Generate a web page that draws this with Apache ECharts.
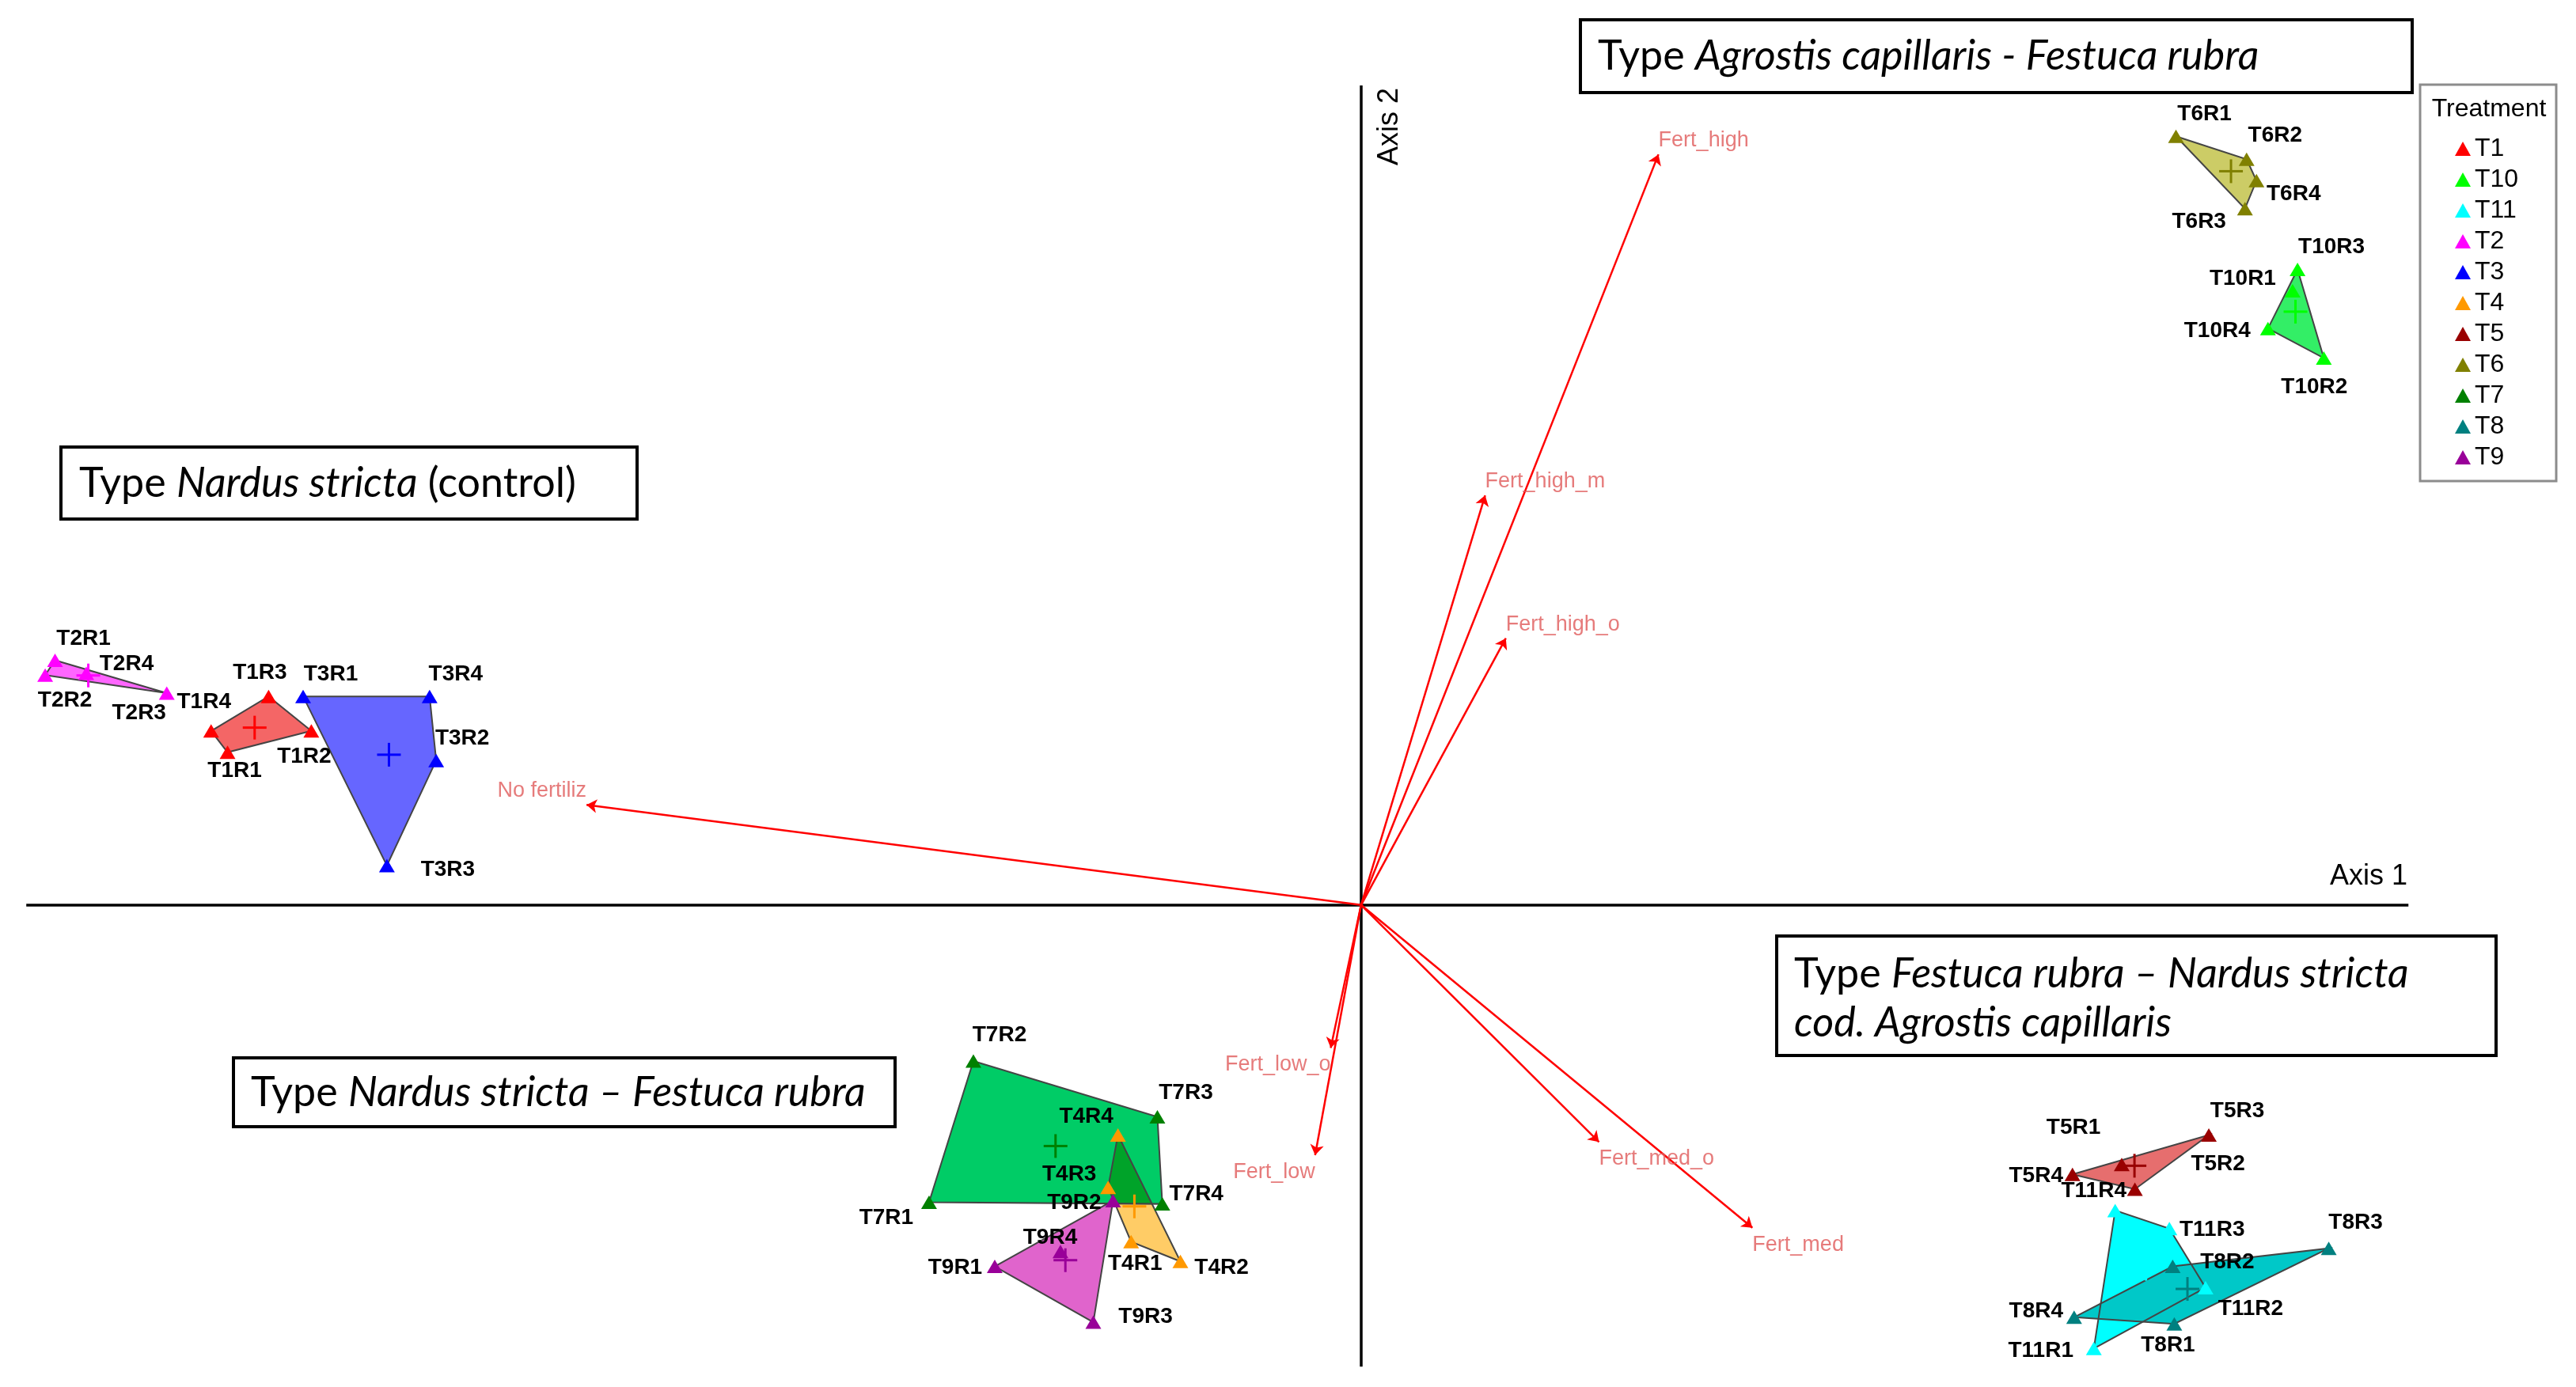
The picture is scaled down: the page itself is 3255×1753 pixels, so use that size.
<!DOCTYPE html>
<html>
<head>
<meta charset="utf-8">
<script src="https://cdn.jsdelivr.net/npm/echarts@6/dist/echarts.min.js"></script>
<style>
  html, body { margin: 0; padding: 0; background: #fff; }
  #chart { width: 3255px; height: 1753px; }
</style>
</head>
<body>
<div id="chart"></div>
<script>
// treatments in legend order, four replicates each
var treatments = ['T1', 'T10', 'T11', 'T2', 'T3', 'T4', 'T5', 'T6', 'T7', 'T8', 'T9'];
var replicates = ['R1', 'R2', 'R3', 'R4'];

// sample scores on axis 1 (rows follow treatments, columns R1..R4)
var axis1Scores = [
    [-6.90, -6.39, -6.65, -7.00],   // T1
    [5.67, 5.86, 5.70, 5.52],       // T10
    [4.46, 5.14, 4.92, 4.59],       // T11
    [-7.95, -8.01, -7.27, -7.76],   // T2
    [-6.44, -5.63, -5.93, -5.67],   // T3
    [-1.40, -1.10, -1.54, -1.48],   // T4
    [4.63, 4.71, 5.16, 4.33],       // T5
    [4.96, 5.39, 5.38, 5.45],       // T6
    [-2.63, -2.36, -1.24, -1.21],   // T7
    [4.95, 4.94, 5.89, 4.34],       // T8
    [-2.23, -1.51, -1.63, -1.83]    // T9
];
// sample scores on axis 2
var axis2Scores = [
    [0.93, 1.06, 1.27, 1.06],
    [3.74, 3.33, 3.87, 3.51],
    [-2.70, -2.33, -1.97, -1.86],
    [1.49, 1.40, 1.29, 1.41],
    [1.27, 0.88, 0.24, 1.27],
    [-2.05, -2.17, -1.72, -1.40],
    [-1.58, -1.73, -1.40, -1.64],
    [4.68, 4.54, 4.24, 4.41],
    [-1.81, -0.95, -1.29, -1.82],
    [-2.55, -2.20, -2.09, -2.51],
    [-2.20, -1.80, -2.54, -2.11]
];

// fertilisation vectors
var envNames = ['Fert_high', 'Fert_high_m', 'Fert_high_o', 'No fertiliz', 'Fert_low_o', 'Fert_low', 'Fert_med_o', 'Fert_med'];
var envAxis1 = [1.81, 0.755, 0.881, -4.715, -0.185, -0.28, 1.448, 2.382];
var envAxis2 = [4.57, 2.494, 1.624, 0.61, -0.87, -1.523, -1.443, -1.965];

// extent of the drawn axis cross
var axis1Line = [-8.125, 6.375];
var axis2Line = [-2.81, 4.99];

// ---- styling (not data) ----
var markerColors = ['#FF0000', '#00FF00', '#00FFFF', '#FF00FF', '#0000FF', '#FF9900', '#990000', '#808000', '#008000', '#008080', '#990099'];
var fillColors = ['#F46666', '#33EE66', '#00FFFF', '#FF66FF', '#6666FF', '#FFCC66', '#E66E6E', '#CCCC66', '#00CC66', '#00C8C8', '#E064CC'];
// label offsets in px, same layout as the score arrays
var labelOffsets = [
    [[9, 24], [-9, 33], [-11, -30], [-9, -36]],
    [[-63, -15], [-12, 37], [43, -28], [-64, 3]],
    [[-67, 3], [57, 27], [54, 2], [-27, -25]],
    [[36, -27], [25, 32], [-35, 25], [51, -12]],
    [[35, -28], [33, -28], [77, 5], [33, -28]],
    [[5, 28], [52, 8], [-49, -17], [-40, -23]],
    [[-61, -47], [105, -32], [36, -30], [-46, 2]],
    [[36, -28], [36, -30], [-58, 17], [47, 17]],
    [[-54, 20], [33, -33], [36, -30], [43, -12]],
    [[-8, 27], [69, -5], [34, -32], [-48, -8]],
    [[-50, 2], [-49, 3], [66, -7], [-13, -18]]
];

var FONT = '"Liberation Sans", Arial, sans-serif';
var BOX_FONT = 'Lato, "Open Sans", sans-serif';

function groupPoints(i) {
    return replicates.map(function (r, j) { return [axis1Scores[i][j], axis2Scores[i][j]]; });
}

function cross(o, a, b) { return (a[0] - o[0]) * (b[1] - o[1]) - (a[1] - o[1]) * (b[0] - o[0]); }

// counter-clockwise hull
function convexHull(pts) {
    var p = pts.slice().sort(function (a, b) { return a[0] - b[0] || a[1] - b[1]; });
    var lower = [], upper = [];
    p.forEach(function (q) {
        while (lower.length >= 2 && cross(lower[lower.length - 2], lower[lower.length - 1], q) <= 0) lower.pop();
        lower.push(q);
    });
    for (var k = p.length - 1; k >= 0; k--) {
        var q = p[k];
        while (upper.length >= 2 && cross(upper[upper.length - 2], upper[upper.length - 1], q) <= 0) upper.pop();
        upper.push(q);
    }
    lower.pop(); upper.pop();
    return lower.concat(upper);
}

// clip convex polygon by convex polygon (Sutherland-Hodgman)
function clipPoly(subject, clip) {
    var out = subject;
    for (var e = 0; e < clip.length && out.length; e++) {
        var a = clip[e], b = clip[(e + 1) % clip.length];
        var input = out; out = [];
        for (var k = 0; k < input.length; k++) {
            var p = input[k], q = input[(k + 1) % input.length];
            var pin = cross(a, b, p) >= 0, qin = cross(a, b, q) >= 0;
            if (pin) out.push(p);
            if (pin !== qin) {
                var d1 = cross(a, b, p), d2 = cross(a, b, q), t = d1 / (d1 - d2);
                out.push([p[0] + t * (q[0] - p[0]), p[1] + t * (q[1] - p[1])]);
            }
        }
    }
    return out;
}

function multiplyColor(c1, c2) {
    var h = function (c, k) { return parseInt(c.substr(1 + 2 * k, 2), 16); };
    var s = '#';
    for (var k = 0; k < 3; k++) {
        var v = Math.round(h(c1, k) * h(c2, k) / 255);
        s += (v < 16 ? '0' : '') + v.toString(16);
    }
    return s;
}

var hulls = treatments.map(function (t, i) { return convexHull(groupPoints(i)); });
var overlaps = [];
for (var a = 0; a < hulls.length; a++) {
    for (var b = a + 1; b < hulls.length; b++) {
        var inter = clipPoly(hulls[a], hulls[b]);
        if (inter.length >= 3) overlaps.push({ pts: inter, color: multiplyColor(fillColors[a], fillColors[b]) });
    }
}

var series = [];

// axis cross
series.push({
    type: 'lines',
    coordinateSystem: 'cartesian2d',
    z: 0,
    silent: true,
    symbol: 'none',
    lineStyle: { color: '#000', width: 3.5, opacity: 1 },
    data: [
        { coords: [[axis1Line[0], 0], [axis1Line[1], 0]] },
        { coords: [[0, axis2Line[0]], [0, axis2Line[1]]] }
    ]
});

// hull fills
series.push({
    type: 'custom',
    name: 'hullFill',
    z: 1,
    silent: true,
    data: treatments.map(function (t, i) { return [i]; }),
    renderItem: function (params, api) {
        var i = params.dataIndex;
        return {
            type: 'polygon',
            shape: { points: hulls[i].map(function (p) { return api.coord(p); }) },
            style: { fill: fillColors[i], stroke: null }
        };
    }
});

// overlapping parts of hulls (multiplied colours)
series.push({
    type: 'custom',
    name: 'overlap',
    z: 2,
    silent: true,
    data: overlaps.map(function (o, i) { return [i]; }),
    renderItem: function (params, api) {
        var o = overlaps[params.dataIndex];
        return {
            type: 'polygon',
            shape: { points: o.pts.map(function (p) { return api.coord(p); }) },
            style: { fill: o.color, stroke: null }
        };
    }
});

// hull outlines
series.push({
    type: 'custom',
    name: 'hullLine',
    z: 3,
    silent: true,
    data: treatments.map(function (t, i) { return [i]; }),
    renderItem: function (params, api) {
        var i = params.dataIndex;
        var pts = hulls[i].map(function (p) { return api.coord(p); });
        pts.push(pts[0]);
        return {
            type: 'polyline',
            shape: { points: pts },
            style: { fill: null, stroke: '#444', lineWidth: 2 }
        };
    }
});

// centroid crosses
series.push({
    type: 'custom',
    name: 'centroids',
    z: 4,
    silent: true,
    data: treatments.map(function (t, i) { return [i]; }),
    renderItem: function (params, api) {
        var i = params.dataIndex;
        var pts = groupPoints(i);
        var mx = 0, my = 0;
        pts.forEach(function (p) { mx += p[0] / pts.length; my += p[1] / pts.length; });
        var c = api.coord([mx, my]);
        var st = { stroke: markerColors[i], lineWidth: 3 };
        return {
            type: 'group',
            children: [
                { type: 'line', shape: { x1: c[0] - 15, y1: c[1], x2: c[0] + 15, y2: c[1] }, style: st },
                { type: 'line', shape: { x1: c[0], y1: c[1] - 15, x2: c[0], y2: c[1] + 15 }, style: st }
            ]
        };
    }
});

// samples
treatments.forEach(function (t, i) {
    series.push({
        type: 'scatter',
        name: t,
        z: 5,
        symbol: 'triangle',
        symbolSize: [20, 17],
        itemStyle: { color: markerColors[i], opacity: 1 },
        label: {
            show: true,
            position: 'inside',
            formatter: '{b}',
            color: '#000',
            fontSize: 28,
            fontWeight: 'bold',
            fontFamily: FONT
        },
        emphasis: { disabled: true },
        data: replicates.map(function (r, j) {
            return {
                name: t + r,
                value: [axis1Scores[i][j], axis2Scores[i][j]],
                label: { offset: labelOffsets[i][j] }
            };
        })
    });
});

// fertilisation arrows
series.push({
    type: 'lines',
    coordinateSystem: 'cartesian2d',
    z: 6,
    silent: true,
    symbol: ['none', 'arrow'],
    symbolSize: 13,
    lineStyle: { color: '#FF0000', width: 2.5, opacity: 1 },
    data: envNames.map(function (n, i) {
        return { coords: [[0, 0], [envAxis1[i], envAxis2[i]]] };
    })
});
series.push({
    type: 'scatter',
    name: 'env',
    z: 6,
    silent: true,
    symbolSize: 1,
    itemStyle: { color: 'transparent' },
    label: {
        show: true,
        position: 'inside',
        formatter: '{b}',
        color: '#E05A5A',
        fontSize: 27,
        fontFamily: FONT
    },
    data: envNames.map(function (n, i) {
        var right = envAxis1[i] >= 0, up = envAxis2[i] >= 0;
        return {
            name: n,
            value: [envAxis1[i], envAxis2[i]],
            label: {
                align: right ? 'left' : 'right',
                verticalAlign: up ? 'bottom' : 'top',
                offset: [0, up ? -4 : 8]
            }
        };
    })
});

function boxText(x, y, text) {
    return {
        type: 'text', x: x, y: y, z: 11,
        style: {
            text: text,
            align: 'left',
            verticalAlign: 'middle',
            fill: '#000',
            fontSize: 52,
            fontFamily: BOX_FONT,
            rich: {
                n: { fontSize: 52, fontFamily: BOX_FONT, fill: '#000', lineHeight: 62 },
                i: { fontSize: 52, fontFamily: BOX_FONT, fontStyle: 'italic', fill: '#000', lineHeight: 62 }
            }
        }
    };
}
function boxRect(x, y, w, h) {
    return {
        type: 'rect', z: 10,
        shape: { x: x, y: y, width: w, height: h },
        style: { fill: '#fff', stroke: '#000', lineWidth: 4 }
    };
}

var chart = echarts.init(document.getElementById('chart'));
chart.setOption({
    animation: false,
    backgroundColor: '#fff',
    grid: { left: 0, right: 0, top: 0, bottom: 0 },
    xAxis: { type: 'value', min: -8.285, max: 7.395, show: false },
    yAxis: { type: 'value', min: -2.9346, max: 5.51, show: false },
    legend: {
        data: treatments,
        orient: 'vertical',
        left: 3102,
        top: 172,
        padding: 0,
        icon: 'triangle',
        itemWidth: 20,
        itemHeight: 18,
        itemGap: 7,
        selectedMode: false,
        textStyle: { fontSize: 32, lineHeight: 32, fontFamily: FONT, color: '#000' }
    },
    graphic: [
        boxRect(1997, 25, 1051, 92),
        boxText(2019, 71, '{n|Type }{i|Agrostis capillaris - Festuca rubra}'),
        boxRect(77, 565, 728, 91),
        boxText(100, 611, '{n|Type }{i|Nardus stricta}{n| (control)}'),
        boxRect(295, 1337, 836, 87),
        boxText(317, 1381, '{n|Type }{i|Nardus stricta – Festuca rubra}'),
        boxRect(2245, 1183, 909, 151),
        boxText(2267, 1262, '{n|Type }{i|Festuca rubra – Nardus stricta}\n{i|cod. Agrostis capillaris}'),
        {
            type: 'rect', z: 0,
            shape: { x: 3058, y: 107, width: 172, height: 501 },
            style: { fill: '#fff', stroke: '#8c8c8c', lineWidth: 3 }
        },
        {
            type: 'text', x: 3145, y: 138, z: 11,
            style: { text: 'Treatment', align: 'center', verticalAlign: 'middle', fill: '#000', fontSize: 32, fontFamily: FONT }
        },
        {
            type: 'text', x: 2993, y: 1108, z: 11,
            style: { text: 'Axis 1', align: 'center', verticalAlign: 'middle', fill: '#000', fontSize: 36, fontFamily: FONT }
        },
        {
            type: 'text', x: 1756, y: 160, z: 11, rotation: Math.PI / 2,
            style: { text: 'Axis 2', align: 'center', verticalAlign: 'middle', fill: '#000', fontSize: 36, fontFamily: FONT }
        }
    ],
    series: series
});
</script>
</body>
</html>
